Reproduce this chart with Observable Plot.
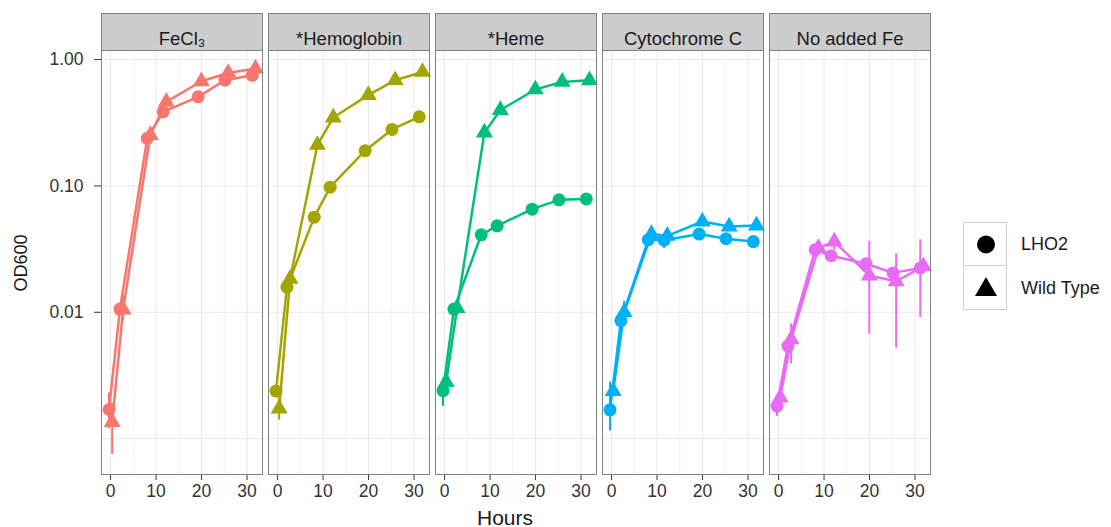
<!DOCTYPE html>
<html>
<head>
<meta charset="utf-8">
<script src="https://cdn.jsdelivr.net/npm/d3@7"></script>
<script src="https://cdn.jsdelivr.net/npm/@observablehq/plot@0.6"></script>
<style>
  html, body { margin: 0; padding: 0; background: white; }
  #wrap { position: relative; width: 1111px; height: 527px; font-family: 'Liberation Sans', Arial, sans-serif; }
  #wrap svg { position: absolute; left: 0; top: 0; }
  .lbl { position: absolute; white-space: nowrap; color: #1a1a1a; line-height: 1; }
</style>
</head>
<body>
<div id="wrap"></div>
<script>
// ---- data ----
const panels = ["FeCl₃", "*Hemoglobin", "*Heme", "Cytochrome C", "No added Fe"];
const panelColors = ["#F8766D", "#A3A500", "#00BF7D", "#00B0F6", "#E76BF3"];
const strains = ["LHO2", "Wild Type"];
const hours = [0, 2.4, 8.4, 11.9, 19.6, 25.5, 31.5];

const fecl3LHO2 = [0.0017, 0.0106, 0.238, 0.386, 0.507, 0.687, 0.751];
const fecl3WT   = [0.00135, 0.0105, 0.253, 0.463, 0.674, 0.784, 0.849];
const hemoLHO2  = [0.00238, 0.0158, 0.0566, 0.0977, 0.190, 0.280, 0.352];
const hemoWT    = [0.00173, 0.0184, 0.211, 0.348, 0.523, 0.687, 0.798];
const hemeLHO2  = [0.0024, 0.0106, 0.041, 0.0483, 0.0655, 0.0776, 0.0789];
const hemeWT    = [0.0028, 0.0108, 0.264, 0.398, 0.580, 0.666, 0.686];
const cytoLHO2  = [0.00169, 0.0086, 0.0375, 0.0372, 0.0416, 0.0382, 0.0363];
const cytoWT    = [0.00238, 0.0100, 0.0416, 0.0403, 0.0523, 0.0477, 0.0486];
const nofeLHO2  = [0.00181, 0.0054, 0.0313, 0.0280, 0.0242, 0.0205, 0.0224];
const nofeWT    = [0.00211, 0.0061, 0.0322, 0.0363, 0.0195, 0.0176, 0.0231];

// visible error bars
const errPanel  = ["FeCl₃", "FeCl₃", "FeCl₃", "*Hemoglobin", "*Heme", "Cytochrome C", "Cytochrome C", "Cytochrome C",
                   "No added Fe", "No added Fe", "No added Fe", "No added Fe", "No added Fe", "No added Fe"];
const errStrain = ["LHO2", "Wild Type", "Wild Type", "Wild Type", "LHO2", "LHO2", "Wild Type", "LHO2",
                   "LHO2", "Wild Type", "Wild Type", "Wild Type", "Wild Type", "LHO2"];
const errHourIx = [0, 0, 1, 0, 0, 0, 1, 3, 0, 1, 3, 4, 5, 6];
const errLow    = [0.0012, 0.00075, 0.0085, 0.0014, 0.0018, 0.00115, 0.0082, 0.032, 0.0015, 0.0039, 0.031, 0.0067, 0.0052, 0.0091];
const errHigh   = [0.0023, 0.0019, 0.0136, 0.0021, 0.0030, 0.0028, 0.0122, 0.042, 0.0021, 0.0081, 0.042, 0.0364, 0.029, 0.0375];

// axes / grid
const yTicks = [0.01, 0.1, 1];
const yGrid = [0.001, 0.01, 0.1, 1];
const xMajor = [0, 10, 20, 30];
const xMinor = [5, 15, 25];

// ---- build table ----
const dodgeOffset = {"LHO2": -0.35, "Wild Type": 0.35};
const seriesList = [
  [panels[0], strains[0], fecl3LHO2], [panels[0], strains[1], fecl3WT],
  [panels[1], strains[0], hemoLHO2],  [panels[1], strains[1], hemoWT],
  [panels[2], strains[0], hemeLHO2],  [panels[2], strains[1], hemeWT],
  [panels[3], strains[0], cytoLHO2],  [panels[3], strains[1], cytoWT],
  [panels[4], strains[0], nofeLHO2],  [panels[4], strains[1], nofeWT]
];
const points = [];
for (const [panel, strain, vals] of seriesList) {
  vals.forEach((v, i) => points.push({panel, strain, hour: hours[i], x: hours[i] + dodgeOffset[strain], od: v}));
}
const errors = errPanel.map((p, i) => ({
  panel: p, strain: errStrain[i],
  x: hours[errHourIx[i]] + dodgeOffset[errStrain[i]],
  lo: errLow[i], hi: errHigh[i]
}));

const chart = Plot.plot({
  width: 1111,
  height: 527,
  marginLeft: 100,
  marginRight: 181,
  marginTop: 50,
  marginBottom: 53,
  style: {fontFamily: "'Liberation Sans', Arial, sans-serif", fontSize: "17.5px", color: "#333", background: "white"},
  fx: {domain: panels, paddingInner: 0.0374, paddingOuter: 0, axis: null, label: null},
  x: {domain: [-2, 33.4], ticks: xMajor, tickSize: 6, tickPadding: 4, label: null},
  y: {type: "log", domain: [0.00052, 1.18], ticks: yTicks, tickFormat: d3.format(".2f"), tickSize: 7, tickPadding: 11, label: null},
  color: {domain: panels, range: panelColors},
  marks: [
    Plot.frame({fill: "white"}),
    Plot.ruleX(xMinor, {stroke: "#f2f2f2", strokeWidth: 1}),
    Plot.ruleX(xMajor, {stroke: "#e8e8e8", strokeWidth: 1}),
    Plot.ruleY(yGrid, {stroke: "#e8e8e8", strokeWidth: 1}),
    Plot.frame({fill: "#cccccc", stroke: "#808080", insetTop: -37, insetBottom: 424}),
    Plot.text(panels, {fx: d => d, text: d => d, frameAnchor: "top", dy: -18.5, fontSize: 18.5, fill: "#1a1a1a"}),
    Plot.ruleX(errors, {fx: "panel", x: "x", y1: "lo", y2: "hi", stroke: "panel", strokeWidth: 2}),
    Plot.line(points, {fx: "panel", x: "x", y: "od", z: "strain", stroke: "panel", strokeWidth: 2.5}),
    Plot.dot(points.filter(d => d.strain === "LHO2"), {fx: "panel", x: "x", y: "od", fill: "panel", r: 6.5, symbol: "circle"}),
    Plot.dot(points.filter(d => d.strain === "Wild Type"), {fx: "panel", x: "x", y: "od", fill: "panel", r: 6.3, symbol: "triangle"}),
    Plot.frame({stroke: "#808080"})
  ]
});

const wrap = document.getElementById("wrap");
wrap.appendChild(chart);

// axis titles
const hoursLbl = document.createElement("div");
hoursLbl.className = "lbl";
hoursLbl.textContent = "Hours";
hoursLbl.style.cssText = "font-size:21px;left:505px;top:507px;transform:translateX(-50%);";
wrap.appendChild(hoursLbl);

const odLbl = document.createElement("div");
odLbl.className = "lbl";
odLbl.textContent = "OD600";
odLbl.style.cssText = "font-size:18px;left:20.5px;top:263px;transform:translate(-50%,-50%) rotate(-90deg);";
wrap.appendChild(odLbl);

// legend
const legend = document.createElement("div");
legend.style.cssText = "position:absolute;left:963px;top:222px;";
const legendItems = [["LHO2", "circle"], ["Wild Type", "triangle"]];
legendItems.forEach(([name, shape], i) => {
  const box = document.createElement("div");
  box.style.cssText = `position:absolute;left:0;top:${i * 44}px;width:44px;height:44px;border:1px solid #cfcfcf;box-sizing:border-box;background:white;` + (i > 0 ? "border-top:none;height:44px;" : "");
  const glyph = shape === "circle"
    ? `<svg width="44" height="44" style="position:absolute;left:0;top:0"><circle cx="22" cy="21.5" r="9" fill="black"/></svg>`
    : `<svg width="44" height="44" style="position:absolute;left:0;top:0"><path d="M22 11 L33 30 L11 30 Z" fill="black"/></svg>`;
  box.innerHTML = glyph;
  legend.appendChild(box);
  const t = document.createElement("div");
  t.className = "lbl";
  t.textContent = name;
  t.style.cssText = `font-size:18px;left:58px;top:${i * 44 + 22}px;transform:translateY(-50%);`;
  legend.appendChild(t);
});
wrap.appendChild(legend);
</script>
</body>
</html>
